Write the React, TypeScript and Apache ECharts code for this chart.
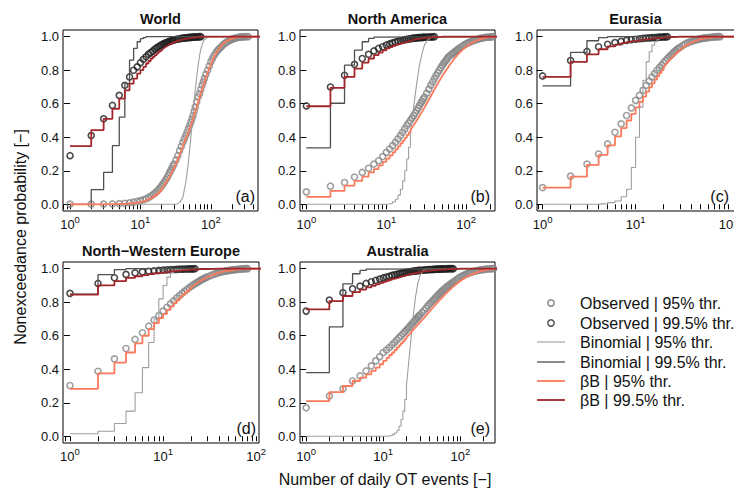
import React, { useEffect, useRef } from "react";
import * as echarts from "echarts";

// ---------- data ----------
// k values ("number of daily OT events") for the model curves; each model array is aligned to it
const LINE_K = [1, 2, 3, 4, 5, 6, 7, 8, 9, 10, 11, 12, 13, 14, 15, 16, 17, 18, 19, 20, 22, 24, 26, 28, 30, 33, 36, 40, 44, 48, 52, 56, 60, 65, 70, 75, 80, 90, 100, 110, 120, 130, 140, 150, 165, 180, 200, 220, 240, 260, 280, 300];
// k values of the observed points; each observed array is aligned to it
const OBS_K = [1, 2, 3, 4, 5, 6, 7, 8, 9, 10, 11, 12, 13, 14, 15, 16, 17, 18, 19, 20, 21, 22, 23, 24, 25, 26, 27, 28, 29, 30,
  32, 34, 36, 38, 40, 42, 44, 46, 48, 50, 52, 54, 56, 58, 60, 63, 66, 69, 72, 75, 78, 81, 85, 90, 95, 100, 105, 110,
  116, 122, 128, 135, 142, 150, 158, 166, 175, 185, 195, 205, 215, 225, 240, 255, 270, 285, 300, 320, 340];

const PANEL_TITLES = ["World", "North America", "Eurasia", "North\u2212Western Europe", "Australia"];
const PANEL_TAGS = ["(a)", "(b)", "(c)", "(d)", "(e)"];
const X_LABEL_EXPONENTS = [0, 1, 2];
const X_TICK_VALUES = [0.8, 0.9, 1, 2, 3, 4, 5, 6, 7, 8, 9, 10, 20, 30, 40, 50, 60, 70, 80, 90, 100, 200, 300, 400, 500, 600, 700, 800, 900];
const Y_TICKS = [0, 0.2, 0.4, 0.6, 0.8, 1.0];
const SERIES_NAMES = ["Observed | 95% thr.", "Observed | 99.5% thr.", "Binomial | 95% thr.", "Binomial | 99.5% thr.", "\u03b2B | 95% thr.", "\u03b2B | 99.5% thr."];

// (a) World
const worldObs95 = [0.001, 0.001, 0.001, 0.002, 0.004, 0.006, 0.009, 0.013, 0.017, 0.022, 0.027, 0.033, 0.04, 0.048, 0.057, 0.066, 0.076, 0.087, 0.098, 0.11,
  0.122, 0.135, 0.148, 0.16, 0.175, 0.19, 0.203, 0.215, 0.228, 0.24,
  0.265, 0.29, 0.32, 0.345, 0.37, 0.39, 0.41, 0.43, 0.45, 0.47, 0.49, 0.51, 0.53, 0.555, 0.58, 0.61, 0.64, 0.66, 0.685, 0.71, 0.73, 0.75, 0.775, 0.8, 0.825, 0.85, 0.868, 0.885,
  0.9, 0.913, 0.923, 0.933, 0.942, 0.952, 0.96, 0.967, 0.973, 0.978, 0.983, 0.987, 0.99, 0.992, 0.995, 0.997, 0.998, 0.999, 1.0, 1.0, 1.0];
const worldObs995 = [0.29, 0.41, 0.51, 0.59, 0.65, 0.71, 0.76, 0.8, 0.82, 0.845, 0.865, 0.88, 0.895, 0.905, 0.915, 0.925, 0.933, 0.94, 0.946, 0.952,
  0.956, 0.96, 0.964, 0.967, 0.97, 0.973, 0.975, 0.977, 0.979, 0.981,
  0.984, 0.986, 0.988, 0.99, 0.991, 0.992, 0.993, 0.994, 0.995, 0.996, 0.996, 0.997, 0.997, 0.998, 0.998, 0.999, 0.999, 1.0, 1.0];
const worldBin95 = [0, 0, 0, 0, 0, 0, 0, 0, 0, 0, 0, 0, 0, 0, 0, 0, 0, 0, 0, 0,
  0, 0, 0, 0, 0, 0.002, 0.01, 0.04, 0.13, 0.25, 0.4, 0.55, 0.68, 0.81, 0.9, 0.95, 0.98, 0.997, 1.0];
const worldBin995 = [0, 0.088, 0.19, 0.35, 0.52, 0.72, 0.86, 0.93, 0.97, 0.988, 0.995, 1.0];
const worldBb95 = [0, 0, 0.001, 0.002, 0.003, 0.005, 0.007, 0.01, 0.013, 0.017, 0.021, 0.026, 0.032, 0.038, 0.045, 0.053, 0.062, 0.071, 0.081, 0.092,
  0.115, 0.14, 0.165, 0.19, 0.215, 0.255, 0.295, 0.345, 0.39, 0.43, 0.47, 0.51, 0.55, 0.6, 0.645, 0.685, 0.72, 0.785, 0.835, 0.875, 0.905, 0.928, 0.945, 0.958, 0.972, 0.981, 0.989, 0.994, 0.997, 0.998, 0.999, 1.0];
const worldBb995 = [0.347, 0.443, 0.51, 0.57, 0.63, 0.68, 0.72, 0.75, 0.78, 0.8, 0.82, 0.84, 0.855, 0.87, 0.88, 0.89, 0.9, 0.91, 0.915, 0.92,
  0.935, 0.945, 0.953, 0.96, 0.966, 0.973, 0.978, 0.983, 0.987, 0.99, 0.992, 0.994, 0.995, 0.997, 0.998, 0.999, 1.0];

// (b) North America
const naObs95 = [0.074, 0.108, 0.13, 0.163, 0.19, 0.215, 0.24, 0.26, 0.285, 0.31, 0.33, 0.35, 0.37, 0.39, 0.41, 0.43, 0.45, 0.47, 0.485, 0.5,
  0.515, 0.53, 0.545, 0.56, 0.575, 0.59, 0.603, 0.615, 0.628, 0.64,
  0.663, 0.687, 0.71, 0.73, 0.75, 0.768, 0.785, 0.8, 0.815, 0.828, 0.84, 0.85, 0.86, 0.87, 0.88, 0.888, 0.896, 0.903, 0.91, 0.917, 0.923, 0.929, 0.937, 0.945, 0.952, 0.958, 0.963, 0.967,
  0.972, 0.976, 0.979, 0.983, 0.986, 0.99, 0.992, 0.994, 0.996, 0.997, 0.998, 0.999, 1.0];
const naObs995 = [0.587, 0.7, 0.77, 0.835, 0.87, 0.895, 0.915, 0.93, 0.94, 0.95, 0.957, 0.963, 0.968, 0.972, 0.976, 0.979, 0.982, 0.984, 0.986, 0.988,
  0.99, 0.991, 0.992, 0.993, 0.994, 0.995, 0.995, 0.996, 0.996, 0.997,
  0.998, 0.998, 0.999, 0.999, 1.0];
const naBin95 = [0, 0, 0, 0, 0, 0, 0, 0, 0, 0.002, 0.006, 0.015, 0.03, 0.055, 0.09, 0.14, 0.2, 0.27, 0.34, 0.42,
  0.58, 0.72, 0.83, 0.9, 0.95, 0.98, 0.995, 1.0];
const naBin995 = [0.337, 0.603, 0.83, 0.92, 0.97, 0.99, 0.997, 1.0];
const naBb95 = [0.044, 0.08, 0.112, 0.14, 0.165, 0.19, 0.21, 0.232, 0.253, 0.273, 0.292, 0.31, 0.328, 0.346, 0.363, 0.38, 0.396, 0.412, 0.428, 0.443,
  0.472, 0.5, 0.527, 0.553, 0.577, 0.612, 0.645, 0.685, 0.72, 0.75, 0.777, 0.8, 0.82, 0.845, 0.865, 0.882, 0.897, 0.922, 0.94, 0.954, 0.965, 0.973, 0.98, 0.985, 0.99, 0.994, 0.997, 0.999, 1.0];
const naBb995 = [0.585, 0.695, 0.76, 0.81, 0.845, 0.87, 0.89, 0.905, 0.918, 0.93, 0.938, 0.945, 0.951, 0.956, 0.961, 0.965, 0.969, 0.972, 0.975, 0.977,
  0.981, 0.985, 0.988, 0.99, 0.992, 0.994, 0.996, 0.997, 0.998, 0.999, 1.0];

// (c) Eurasia
const euObs95 = [0.1, 0.168, 0.24, 0.3, 0.36, 0.43, 0.48, 0.53, 0.575, 0.62, 0.65, 0.68, 0.71, 0.735, 0.76, 0.78, 0.8, 0.815, 0.83, 0.845,
  0.858, 0.87, 0.88, 0.89, 0.9, 0.91, 0.918, 0.925, 0.931, 0.937,
  0.947, 0.956, 0.963, 0.968, 0.973, 0.977, 0.98, 0.983, 0.986, 0.988, 0.99, 0.991, 0.993, 0.994, 0.995, 0.996, 0.997, 0.998, 0.999, 1.0, 1.0, 1.0];
const euObs995 = [0.766, 0.858, 0.912, 0.94, 0.955, 0.965, 0.972, 0.978, 0.982, 0.985, 0.988, 0.99, 0.992, 0.993, 0.994, 0.995, 0.996, 0.997, 0.998, 0.999, 0.999, 1.0];
const euBin95 = [0, 0, 0.001, 0.004, 0.01, 0.02, 0.045, 0.09, 0.22, 0.4, 0.58, 0.74, 0.85, 0.91, 0.95, 0.97, 0.985, 0.992, 0.996, 0.998, 1.0];
const euBin995 = [0.707, 0.906, 0.976, 0.995, 1.0];
const euBb95 = [0.1, 0.165, 0.235, 0.295, 0.352, 0.405, 0.455, 0.5, 0.54, 0.578, 0.612, 0.643, 0.672, 0.698, 0.722, 0.744, 0.765, 0.784, 0.801, 0.817,
  0.845, 0.869, 0.889, 0.906, 0.92, 0.938, 0.952, 0.965, 0.975, 0.982, 0.987, 0.991, 0.993, 0.995, 0.997, 0.998, 0.999, 1.0];
const euBb995 = [0.76, 0.85, 0.895, 0.925, 0.942, 0.953, 0.962, 0.969, 0.974, 0.978, 0.981, 0.984, 0.986, 0.988, 0.99, 0.991, 0.992, 0.993, 0.994, 0.995,
  0.996, 0.997, 0.998, 0.999, 1.0];

// (d) North-Western Europe
const nweObs95 = [0.303, 0.388, 0.462, 0.524, 0.578, 0.618, 0.657, 0.693, 0.72, 0.747, 0.77, 0.79, 0.808, 0.825, 0.84, 0.853, 0.865, 0.876, 0.886, 0.895,
  0.903, 0.91, 0.917, 0.923, 0.929, 0.935, 0.94, 0.944, 0.948, 0.952,
  0.958, 0.964, 0.969, 0.973, 0.977, 0.98, 0.983, 0.985, 0.987, 0.989, 0.99, 0.992, 0.993, 0.994, 0.995, 0.996, 0.997, 0.998, 0.999, 1.0, 1.0, 1.0];
const nweObs995 = [0.853, 0.912, 0.946, 0.966, 0.975, 0.981, 0.985, 0.988, 0.99, 0.992, 0.993, 0.994, 0.995, 0.996, 0.997, 0.997, 0.998, 0.998, 0.999, 0.999, 0.999, 1.0];
const nweBin95 = [0.015, 0.03, 0.076, 0.15, 0.26, 0.41, 0.56, 0.7, 0.82, 0.9, 0.95, 0.978, 0.99, 0.996, 1.0];
const nweBin995 = [0.848, 0.965, 0.995, 1.0];
const nweBb95 = [0.283, 0.375, 0.44, 0.5, 0.555, 0.6, 0.64, 0.675, 0.705, 0.73, 0.754, 0.775, 0.795, 0.812, 0.828, 0.842, 0.855, 0.867, 0.878, 0.888,
  0.905, 0.92, 0.932, 0.942, 0.95, 0.96, 0.968, 0.976, 0.982, 0.986, 0.989, 0.992, 0.994, 0.996, 0.997, 0.998, 0.999, 1.0];
const nweBb995 = [0.845, 0.9, 0.926, 0.945, 0.955, 0.962, 0.968, 0.973, 0.977, 0.98, 0.982, 0.985, 0.987, 0.988, 0.99, 0.991, 0.992, 0.993, 0.994, 0.994,
  0.995, 0.996, 0.997, 0.998, 0.998, 0.999, 0.999, 1.0];

// (e) Australia
const auObs95 = [0.17, 0.24, 0.283, 0.33, 0.36, 0.39, 0.42, 0.45, 0.475, 0.5, 0.515, 0.53, 0.545, 0.56, 0.575, 0.588, 0.6, 0.612, 0.623, 0.634,
  0.645, 0.655, 0.665, 0.675, 0.684, 0.693, 0.702, 0.71, 0.718, 0.725,
  0.738, 0.752, 0.765, 0.778, 0.79, 0.8, 0.81, 0.819, 0.828, 0.837, 0.845, 0.853, 0.86, 0.867, 0.873, 0.882, 0.89, 0.897, 0.903, 0.91, 0.915, 0.92, 0.927, 0.935, 0.943, 0.95, 0.955, 0.96,
  0.965, 0.969, 0.973, 0.977, 0.98, 0.984, 0.987, 0.989, 0.991, 0.993, 0.995, 0.996, 0.997, 0.998, 0.999, 1.0, 1.0];
const auObs995 = [0.747, 0.813, 0.857, 0.88, 0.896, 0.912, 0.922, 0.93, 0.938, 0.945, 0.95, 0.955, 0.96, 0.964, 0.967, 0.97, 0.973, 0.975, 0.977, 0.979,
  0.98, 0.982, 0.983, 0.985, 0.986, 0.987, 0.988, 0.989, 0.99, 0.99,
  0.991, 0.992, 0.993, 0.994, 0.995, 0.995, 0.996, 0.996, 0.997, 0.997, 0.998, 0.998, 0.998, 0.999, 0.999, 0.999, 0.999, 1.0, 1.0, 1.0, 1.0, 1.0];
const auBin95 = [0, 0, 0, 0, 0, 0, 0, 0, 0, 0.001, 0.002, 0.005, 0.01, 0.02, 0.035, 0.06, 0.1, 0.15, 0.22, 0.3,
  0.5, 0.68, 0.82, 0.91, 0.96, 0.99, 1.0];
const auBin995 = [0.38, 0.653, 0.91, 0.97, 0.99, 0.997, 1.0];
const auBb95 = [0.21, 0.263, 0.3, 0.33, 0.35, 0.37, 0.39, 0.41, 0.43, 0.45, 0.468, 0.485, 0.5, 0.515, 0.53, 0.543, 0.556, 0.568, 0.58, 0.59,
  0.61, 0.63, 0.648, 0.665, 0.68, 0.7, 0.72, 0.745, 0.767, 0.787, 0.805, 0.82, 0.835, 0.852, 0.866, 0.879, 0.89, 0.91, 0.927, 0.94, 0.95, 0.958, 0.965, 0.971, 0.978, 0.984, 0.989, 0.993, 0.995, 0.997, 0.998, 0.999];
const auBb995 = [0.757, 0.807, 0.837, 0.86, 0.875, 0.888, 0.898, 0.907, 0.915, 0.922, 0.928, 0.934, 0.939, 0.943, 0.947, 0.951, 0.954, 0.957, 0.96, 0.962,
  0.967, 0.971, 0.974, 0.977, 0.98, 0.983, 0.985, 0.988, 0.99, 0.992, 0.993, 0.994, 0.995, 0.996, 0.997, 0.998, 0.998, 0.999, 1.0];

const PANEL_SERIES = [
  [worldObs95, worldObs995, worldBin95, worldBin995, worldBb95, worldBb995],
  [naObs95, naObs995, naBin95, naBin995, naBb95, naBb995],
  [euObs95, euObs995, euBin95, euBin995, euBb95, euBb995],
  [nweObs95, nweObs995, nweBin95, nweBin995, nweBb95, nweBb995],
  [auObs95, auObs995, auBin95, auBin995, auBb95, auBb995],
];

// ---------- layout & style ----------
const FONT = "'Liberation Sans', Arial, Helvetica, sans-serif";
const TEXT = "#111";
const LAYOUT = [
  { left: 63, top: 30, width: 195, height: 181, xMin: -0.1, xMax: 2.67, tagX: 255 },
  { left: 300, top: 30, width: 195, height: 181, xMin: -0.08, xMax: 2.36, tagX: 490 },
  { left: 537, top: 30, width: 200, height: 181, xMin: -0.06, xMax: 2.09, tagX: 729 },
  { left: 63, top: 262, width: 196, height: 181, xMin: -0.075, xMax: 2.03, tagX: 256 },
  { left: 300, top: 262, width: 195, height: 181, xMin: -0.08, xMax: 2.45, tagX: 490 },
];
const SERIES_STYLE = [
  { kind: "obs", color: "#878787", width: 1.6 },
  { kind: "obs", color: "#1e1e1e", width: 1.6 },
  { kind: "line", color: "#9e9e9e", width: 1.1 },
  { kind: "line", color: "#4f4f4f", width: 1.3 },
  { kind: "line", color: "#fa7a5c", width: 1.8 },
  { kind: "line", color: "#a3262a", width: 1.8 },
];
const LEGEND_ROWS_Y = [303, 323, 342, 362, 381, 400];

function stepPoints(vals: number[], xMax: number) {
  const pts: number[][] = [];
  for (let i = 0; i < vals.length; i++) {
    const k = LINE_K[i];
    pts.push([Math.log10(k), vals[i]]);
    const next = LINE_K[i + 1];
    if (i + 1 < vals.length && next === k + 1) pts.push([Math.log10(next), vals[i]]);
  }
  pts.push([xMax + 0.05, vals[vals.length - 1]]);
  return pts;
}

function buildOption() {
  const grid: any[] = [];
  const xAxis: any[] = [];
  const yAxis: any[] = [];
  const series: any[] = [];
  const graphic: any[] = [];

  LAYOUT.forEach((L, i) => {
    grid.push({
      left: L.left, top: L.top, width: L.width, height: L.height,
      show: true, borderColor: "#000", borderWidth: 1, backgroundColor: "transparent",
      containLabel: false, outerBoundsMode: "none",
    });
    xAxis.push({
      type: "value", gridIndex: i, min: L.xMin, max: L.xMax,
      axisLine: { show: false }, splitLine: { show: false },
      axisTick: { show: true, length: 5, customValues: X_TICK_VALUES.map((v) => Math.log10(v)), lineStyle: { color: "#000", width: 1 } },
      axisLabel: {
        customValues: X_LABEL_EXPONENTS, margin: 3, color: TEXT,
        formatter: (v: number) => `{b|10}{s|${Math.round(v)}}`,
        rich: {
          b: { fontSize: 13, fontFamily: FONT, color: TEXT },
          s: { fontSize: 9.5, fontFamily: FONT, color: TEXT, padding: [0, 0, 10, 0] },
        },
      },
    });
    yAxis.push({
      type: "value", gridIndex: i, min: -0.04, max: 1.04,
      axisLine: { show: false }, splitLine: { show: false },
      axisTick: { show: true, length: 6, customValues: Y_TICKS, lineStyle: { color: "#000", width: 1 } },
      axisLabel: { customValues: Y_TICKS, margin: 4, fontSize: 13, fontFamily: FONT, color: TEXT, formatter: (v: number) => v.toFixed(1) },
    });

    PANEL_SERIES[i].forEach((vals, j) => {
      const st = SERIES_STYLE[j];
      if (st.kind === "obs") {
        series.push({
          type: "scatter", name: SERIES_NAMES[j], xAxisIndex: i, yAxisIndex: i, silent: true,
          symbol: "circle", symbolSize: 6,
          itemStyle: { color: "rgba(255,255,255,0)", borderColor: st.color, borderWidth: st.width },
          data: vals.map((v, n) => [Math.log10(OBS_K[n]), v]),
        });
      } else {
        series.push({
          type: "line", name: SERIES_NAMES[j], xAxisIndex: i, yAxisIndex: i, silent: true,
          symbol: "none", showSymbol: false, clip: true,
          lineStyle: { color: st.color, width: st.width },
          data: stepPoints(vals, L.xMax),
        });
      }
    });

    graphic.push({
      type: "text", x: L.left + L.width / 2 - (i === 2 ? 1.5 : 0), y: L.top - 11,
      style: { text: PANEL_TITLES[i], fontSize: 14.5, fontWeight: "bold", fontFamily: FONT, fill: TEXT, align: "center", verticalAlign: "middle" },
    });
    graphic.push({
      type: "text", x: L.tagX, y: L.top + L.height - 15,
      style: { text: PANEL_TAGS[i], fontSize: 16, fontFamily: FONT, fill: TEXT, align: "right", verticalAlign: "middle" },
    });
  });

  graphic.push({
    type: "text", x: 385, y: 479,
    style: { text: "Number of daily OT events [\u2212]", fontSize: 16, fontFamily: FONT, fill: TEXT, align: "center", verticalAlign: "middle" },
  });
  graphic.push({
    type: "text", x: 20, y: 237, rotation: Math.PI / 2,
    style: { text: "Nonexceedance probability [\u2212]", fontSize: 16, fontFamily: FONT, fill: TEXT, align: "center", verticalAlign: "middle" },
  });

  SERIES_NAMES.forEach((name, j) => {
    const st = SERIES_STYLE[j];
    const y = LEGEND_ROWS_Y[j];
    if (st.kind === "obs") {
      graphic.push({ type: "circle", shape: { cx: 551, cy: y, r: 3.2 }, style: { fill: "none", stroke: j === 0 ? "#8c8c8c" : "#555", lineWidth: 1.5 } });
    } else {
      graphic.push({ type: "line", shape: { x1: 537, y1: y, x2: 565, y2: y }, style: { stroke: st.color, lineWidth: st.width } });
    }
    graphic.push({
      type: "text", x: 580, y,
      style: { text: name, fontSize: 16, fontFamily: FONT, fill: TEXT, align: "left", verticalAlign: "middle" },
    });
  });

  return {
    animation: false,
    backgroundColor: "#fff",
    textStyle: { fontFamily: FONT },
    grid, xAxis, yAxis, series, graphic,
  };
}

export default function App() {
  const ref = useRef<HTMLDivElement>(null);
  useEffect(() => {
    const chart = echarts.init(ref.current!, null, { renderer: "svg" });
    chart.setOption(buildOption() as any);
    return () => chart.dispose();
  }, []);
  return <div ref={ref} style={{ position: "absolute", left: 0, top: 0, width: 734, height: 491, background: "#fff" }} />;
}
